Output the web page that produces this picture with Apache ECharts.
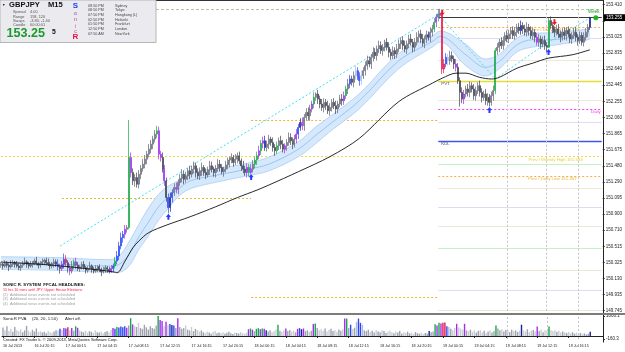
<!DOCTYPE html>
<html>
<head>
<meta charset="utf-8">
<script src="https://cdn.jsdelivr.net/npm/echarts@6/dist/echarts.min.js"></script>
<style>
html,body{margin:0;padding:0;background:#ffffff;}
#chart{width:625px;height:352px;}
</style>
</head>
<body>
<div id="chart"></div>
<script>
// ---------------- DATA ----------------
const dateLabels = ['16 Jul 2013','16 Jul 20:15','17 Jul 00:15','17 Jul 04:15','17 Jul 08:15','17 Jul 12:15',
  '17 Jul 16:15','17 Jul 20:15','18 Jul 00:15','18 Jul 04:15','18 Jul 08:15','18 Jul 12:15','18 Jul 16:15',
  '18 Jul 20:15','19 Jul 00:15','19 Jul 04:15','19 Jul 08:15','19 Jul 12:15','19 Jul 16:15'];
const priceLabels = ['149.745','149.935','150.130','150.325','150.515','150.710','150.900','151.095','151.290',
  '151.480','151.675','151.865','152.060','152.255','152.445','152.640','152.835','153.025','','153.410'];
const volLabels = ['-160.3','1066.1'];

const firstOpen = 150.29;
const closes = [
 150.30,150.28,150.31,150.29,150.27,150.30,150.32,150.30,150.28,150.26,
 150.29,150.31,150.33,150.30,150.28,150.30,150.32,150.34,150.31,150.29,
 150.31,150.33,150.35,150.32,150.30,150.28,150.31,150.33,150.30,150.27,
 150.25,150.30,150.36,150.32,150.26,150.22,150.28,150.33,150.29,150.25,
 150.27,150.30,150.26,150.23,150.25,150.28,150.24,150.22,150.25,150.27,
 150.24,150.21,150.23,150.26,150.24,150.22,150.25,150.28,150.34,150.40,
 150.52,150.62,150.66,150.72,150.74,151.58,151.40,151.30,151.34,151.26,
 151.38,151.45,151.50,151.56,151.62,151.68,151.74,151.80,151.86,151.90,
 151.62,151.58,151.44,151.30,151.10,150.98,151.10,151.16,151.22,151.20,
 151.28,151.33,151.38,151.32,151.36,151.42,151.38,151.44,151.48,151.40,
 151.36,151.42,151.46,151.40,151.37,151.43,151.48,151.44,151.40,151.45,
 151.50,151.46,151.41,151.44,151.49,151.52,151.55,151.58,151.52,151.56,
 151.60,151.54,151.48,151.44,151.40,151.46,151.40,151.44,151.50,151.55,
 151.60,151.66,151.75,151.78,151.70,151.74,151.80,151.76,151.70,151.66,
 151.72,151.78,151.74,151.68,151.72,151.76,151.82,151.78,151.74,151.80,
 151.86,151.94,152.00,151.96,152.06,152.12,152.08,152.16,152.22,152.30,
 152.34,152.28,152.22,152.18,152.24,152.20,152.14,152.18,152.24,152.20,
 152.16,152.22,152.28,152.26,152.32,152.40,152.46,152.52,152.48,152.56,
 152.62,152.55,152.50,152.56,152.62,152.68,152.74,152.70,152.78,152.84,
 152.80,152.88,152.92,152.86,152.90,152.96,152.90,152.84,152.80,152.86,
 152.82,152.88,152.94,152.98,152.92,152.88,152.94,153.00,152.96,152.90,
 152.96,153.02,153.06,153.00,152.95,153.00,153.05,153.02,153.08,153.12,
 153.20,153.26,153.30,153.28,152.64,152.70,152.78,152.74,152.80,152.76,
 152.70,152.66,152.50,152.36,152.28,152.34,152.40,152.36,152.44,152.40,
 152.32,152.38,152.44,152.36,152.30,152.34,152.26,152.30,152.24,152.32,
 152.38,152.86,152.90,152.96,152.92,152.98,153.04,153.00,153.06,153.10,
 153.04,153.08,153.14,153.10,153.16,153.12,153.08,153.14,153.10,153.04,
 153.08,153.02,152.96,153.00,152.94,152.98,152.92,152.90,153.22,153.16,
 153.12,153.08,153.12,153.06,153.02,153.08,153.04,153.10,153.06,153.00,
 153.04,153.08,153.02,152.98,153.04,152.96,153.02,153.08,153.14,153.255
];
// upper / lower wick lengths in pips (0.01)
const upWick = [
 3,2,4,3,2,5,3,2,4,3,2,3,5,2,3,4,2,3,5,2,
 3,4,2,3,5,3,2,4,3,6,3,4,7,5,3,4,6,3,5,4,
 2,3,4,2,3,5,2,3,4,2,3,2,4,3,2,3,4,3,5,6,
 5,6,4,5,3,45,6,5,4,6,5,4,6,5,4,6,5,4,5,6,
 5,4,6,5,4,5,6,4,5,6,4,5,6,4,5,3,6,4,5,4,
 5,4,6,3,5,4,6,5,3,4,6,5,4,3,5,6,4,5,3,6,
 4,5,3,6,4,5,4,6,5,4,5,6,4,5,6,4,5,3,6,4,
 5,4,6,5,3,4,6,5,4,5,6,4,5,6,4,5,6,5,4,6,
 2,5,4,6,5,4,6,5,4,5,6,4,5,6,5,4,6,5,4,5,
 6,4,5,6,4,5,6,5,4,6,5,4,6,5,4,3,5,6,4,5,
 4,6,5,4,5,6,4,5,6,4,5,6,4,5,6,4,5,4,6,5,
 5,4,6,6,1,6,5,4,6,5,4,6,5,4,6,5,4,6,5,4,
 6,5,4,6,5,4,6,5,4,5,6,3,5,4,6,5,4,6,5,4,
 5,6,4,5,6,4,5,6,4,5,6,4,5,6,4,5,6,4,3,5,
 3,3,5,6,4,5,6,4,5,6,4,5,6,4,5,4,6,5,4,1
];
const dnWick = [
 3,4,2,3,5,2,3,4,2,3,4,3,2,4,3,2,4,3,2,4,
 3,2,4,3,2,4,3,5,3,4,6,3,5,4,6,5,3,4,5,3,
 4,3,2,4,3,2,4,3,2,4,3,5,2,3,4,3,2,4,3,4,
 5,4,6,5,4,2,6,5,7,4,5,6,4,5,6,4,5,6,4,5,
 6,5,4,6,5,7,5,6,4,5,6,4,5,6,4,5,6,4,5,6,
 4,5,6,4,5,3,6,4,5,6,4,5,3,6,4,5,6,4,5,3,
 5,4,6,5,4,6,5,2,4,5,6,4,5,6,4,5,6,4,5,6,
 4,5,6,4,5,6,4,5,6,4,5,6,4,5,6,4,5,6,4,5,
 4,6,5,4,6,5,4,6,5,4,6,5,4,6,5,4,6,5,4,6,
 5,4,6,5,4,6,5,4,6,5,4,6,5,4,6,5,4,6,5,4,
 6,5,4,6,5,4,6,5,4,6,5,4,6,5,4,6,5,4,6,5,
 4,6,5,4,6,5,4,6,5,4,6,5,4,17,5,6,4,5,6,4,
 5,6,4,5,6,4,5,6,5,4,6,4,5,6,4,5,6,4,5,6,
 4,5,6,4,5,6,4,5,6,4,5,6,4,5,6,4,5,6,1,4,
 5,6,4,5,6,4,5,6,4,5,6,4,5,6,4,4,5,4,6,3
];
const volumes = [
 450,300,520,260,380,220,480,310,250,360,200,300,540,280,190,330,240,400,210,260,
 180,220,150,260,200,170,240,300,
 280,380,320,420,400,460,300,430,280,520,440,300,
 240,200,280,180,260,220,160,300,200,180,240,150,210,260,190,
 320,420,380,480,450,500,460,520,440,560,950,
 620,540,480,700,420,380,600,460,340,520,420,380,560,
 1066,850,800,520,760,600,640,580,560,420,950,480,380,
 420,560,340,300,480,260,380,320,240,300,
 200,160,240,180,120,220,260,150,180,140,200,120,170,230,150,110,190,160,130,210,150,120,180,
 360,400,340,260,380,420,360,400,380,300,
 240,300,200,260,340,600,280,220,300,400,260,320,240,280,200,380,420,360,400,260,300,220,280,
 640,660,420,300,360,280,400,240,320,380,260,300,220,340,280,360,
 930,930,420,600,380,440,750,930,700,600,
 300,260,340,220,280,180,320,240,200,300,260,160,220,280,200,140,240,180,260,120,200,160,230,140,180,100,210,150,120,180,90,160,130,
 260,200,240,
 620,560,700,660,700,720,520,480,
 380,300,420,650,460,400,340,650,300,260,340,220,300,180,260,320,200,280,160,240,300,180,260,
 560,
 400,300,360,240,320,280,200,340,260,300,220,280,
 600,
 300,240,360,200,280,320,240,
 500,
 260,340,200,300,280,
 500,
 320,260,300,220,280,180,240,200,160,220,140,200,120,180,100,160,90,140,80,120,
 230
];
// PVA coloured bars: [bar index, class]  g=climax up, r=climax down, b=rising up, p=rising down, d=dark, l=light
const pvaMarks = [
 [29,'b'],[31,'p'],[32,'b'],[33,'r'],[35,'p'],[37,'g'],[38,'p'],
 [56,'p'],[57,'b'],[58,'g'],[59,'b'],[60,'b'],[61,'b'],[62,'b'],[63,'p'],[65,'g'],[66,'p'],
 [79,'g'],[80,'p'],[81,'p'],[83,'p'],[85,'b'],[86,'d'],[87,'b'],[89,'p'],
 [125,'p'],[126,'g'],[127,'p'],[129,'g'],[130,'g'],[131,'p'],[132,'g'],[133,'p'],[134,'d'],
 [140,'g'],[144,'p'],[150,'p'],[151,'b'],[152,'d'],[153,'p'],[158,'p'],[159,'g'],
 [174,'p'],[175,'g'],[177,'b'],[180,'l'],[181,'b'],[182,'b'],[183,'l'],[217,'d'],
 [220,'g'],[221,'p'],[222,'g'],[223,'p'],[224,'r'],[225,'r'],[226,'b'],[227,'l'],
 [231,'p'],[235,'p'],[251,'g'],[264,'d'],[272,'p'],[278,'g'],[299,'d']
];
// moving average (black) read at bar positions
const maPoints = [[0,150.328],[25,150.292],[50,150.232],[57,150.21],[59,150.20],[63,150.34],[67,150.50],
 [70,150.58],[75,150.68],[84,150.77],[96,150.87],[109,150.99],[120,151.10],[130,151.19],[136,151.25],
 [151,151.41],[167,151.59],[182,151.81],[202,152.25],[219,152.47],[224,152.53],[231,152.59],[236,152.59],
 [243,152.54],[249,152.52],[253,152.54],[262,152.65],[270,152.71],[278,152.77],[290,152.81],[299,152.87]];
// SonicR dragon band
const bandUpper = [[0,150.392],[30,150.380],[55,150.356],[60,150.400],[65,150.570],[70,150.780],[75,150.980],
 [80,151.140],[85,151.240],[90,151.300],[96,151.390],[110,151.450],[125,151.510],[136,151.585],[151,151.770],
 [160,151.950],[167,152.070],[182,152.345],[202,152.825],[219,153.035],[223,153.095],[236,152.935],
 [246,152.760],[253,152.815],[262,153.010],[270,153.070],[278,153.072],[299,153.122]];
const bandLower = [[0,150.240],[30,150.228],[55,150.204],[60,150.206],[65,150.280],[70,150.478],[75,150.645],
 [80,150.830],[85,150.972],[90,151.110],[96,151.205],[110,151.288],[125,151.360],[136,151.420],[151,151.590],
 [160,151.750],[167,151.890],[182,152.165],[202,152.645],[219,152.903],[223,152.962],[236,152.680],
 [246,152.556],[253,152.642],[262,152.845],[270,152.903],[278,152.915],[299,152.995]];
const bandMid = [[0,150.316],[30,150.304],[55,150.280],[60,150.30],[65,150.42],[70,150.63],[75,150.81],
 [80,150.99],[85,151.11],[90,151.20],[96,151.30],[110,151.37],[125,151.44],[136,151.50],[151,151.68],
 [160,151.85],[167,151.98],[182,152.26],[202,152.74],[219,152.97],[223,153.03],[236,152.81],
 [246,152.66],[253,152.73],[262,152.93],[270,152.99],[278,152.99],[299,153.06]];
const trendA = [[30,150.52],[224,153.32]];
const trendB = [[224,153.24],[251,152.52],[277,152.95],[299,153.25]];

const dayStartBars = [31, 127, 222];
const prevDailyHigh = [151.095, 152.029, 153.135];
const prevDailyLow = [null, 149.909, 151.357];
const prevWeeklyHigh = 151.593;
const weeklyLevel = 153.355;
const bidPrice = 153.255;
const pivotPVT = 152.496;
const dailyLevel = 152.161;
const kdlLevel = 151.777;
const faintLevels = [153.011,152.747,152.268,151.999,151.502,151.215,150.987,150.760,150.496,150.232,149.993,149.753];
const sessionBars = [257, 277, 293];
const buyArrows = [[85,150.87],[127,151.346],[248,152.149],[278,152.843]];
const sellArrows = [[224,153.31],[281,153.20]];
const weekMarker = [302, 153.255];

const headlines = ['SONIC R. SYSTEM  FFCAL HEADLINES:','15 hrs 10 mins until JPY: Upper House Elections',
 '(2)  Additional news events not scheduled','(3)  Additional news events not scheduled','(4)  Additional news events not scheduled'];
const infoRows = [['Spread','4.00'],['Range','158, 120'],['Swaps','-3.80, -1.40'],['Candle','00:00:01']];
const sessions = [['09:50 PM','Sydney'],['08:50 PM','Tokyo'],['07:50 PM','Hongkong (L)'],['02:50 PM','Helsinki'],
 ['01:50 PM','Frankfurt'],['12:50 PM','London'],['07:50 AM','NewYork']];

// ---------------- BUILD ----------------
const FONT = 'Liberation Sans';
const N_SLOTS = 306, END = 305;
const categories = Array.from({length: N_SLOTS}, (_, i) => String(i));
const PVA = {g:'#18a84a', r:'#e8174b', b:'#2b48f2', p:'#a22df0', d:'#1a2299', l:'#a9b9ee'};
const pvaMap = {};
pvaMarks.forEach(m => { pvaMap[m[0]] = m[1]; });

const ohlc = closes.map((c, i) => {
  const o = i === 0 ? firstOpen : closes[i - 1];
  const h = +(Math.max(o, c) + upWick[i] / 100).toFixed(3);
  const l = +(Math.min(o, c) - dnWick[i] / 100).toFixed(3);
  return [o, c, l, h];
});
const candleData = ohlc.map((v, i) => {
  const k = pvaMap[i];
  if (!k) return v;
  const col = PVA[k];
  return {value: v, itemStyle: {color: col, color0: col, borderColor: col, borderColor0: col}};
});
const volData = volumes.map((v, i) => {
  const k = pvaMap[i];
  const up = ohlc[i][1] >= ohlc[i][0];
  return {value: v, itemStyle: {color: k ? PVA[k] : (up ? '#9ea3ae' : '#c9ccd3')}};
});
const bandWidth = bandUpper.map((p, k) => [p[0], +(p[1] - bandLower[k][1]).toFixed(3)]);

const dotted = [2, 2];
function seg(price, s, e, style, label) {
  return [{coord: [s, price], lineStyle: style, label: label || {show: false}}, {coord: [e, price]}];
}
const lblStyle = (text, pos, dist, color) => ({show: true, formatter: text, position: pos, distance: dist,
  color: color, fontSize: 4.4, fontFamily: FONT});
const faintColors = ['#dcdcf4','#eee6d8','#eee6d8','#dcdcf4','#c6f0c6','#eee6d8','#dcdcf4','#eee6d8','#c6f0c6','#eee6d8','#dcdcf4','#eee6d8'];

const levelLines = [];
levelLines.push(seg(weeklyLevel, 0, END, {color:'#b2ca94', width:1, type:[3,2]}));
levelLines.push(seg(bidPrice, dayStartBars[2], END, {color:'#3a3a3a', width:1, type:'solid'}));
faintLevels.forEach((p, k) => levelLines.push(seg(p, dayStartBars[2], END, {color: faintColors[k], width:1, type:'solid'})));
levelLines.push(seg(prevDailyHigh[2], dayStartBars[2], END, {color:'#f0b23c', width:1, type:dotted},
  lblStyle('Prev / Daily High ' + prevDailyHigh[2].toFixed(3), 'insideEndBottom', [22, 0], '#eeb040')));
levelLines.push(seg(pivotPVT, dayStartBars[2], END, {color:'#e4de34', width:1.4, type:'solid'},
  lblStyle('PVT', 'insideStartBottom', [3, 1], '#4a4a6e')));
levelLines.push(seg(dailyLevel, dayStartBars[2], END, {color:'#ff3cff', width:1, type:dotted},
  lblStyle('Daily', 'insideEndBottom', [1, 1], '#ff30ff')));
levelLines.push(seg(kdlLevel, dayStartBars[2], END, {color:'#3c58e4', width:1.4, type:'solid'},
  lblStyle('KDL', 'insideStartBottom', [3, 1], '#4a4a6e')));
levelLines.push(seg(prevWeeklyHigh, 0, END, {color:'#f6d63c', width:1, type:dotted},
  lblStyle('Prev / Weekly High ' + prevWeeklyHigh.toFixed(3), 'insideEndBottom', [19, 1], '#e8cc3c')));
levelLines.push(seg(prevDailyLow[2], dayStartBars[2], END, {color:'#f0b23c', width:1, type:dotted},
  lblStyle('Prev / Daily Low ' + prevDailyLow[2].toFixed(3), 'insideEndBottom', [25, 1], '#eeb040')));
levelLines.push(seg(prevDailyHigh[0], dayStartBars[0], dayStartBars[1], {color:'#f0b23c', width:1, type:dotted}));
levelLines.push(seg(prevDailyHigh[1], dayStartBars[1], dayStartBars[2], {color:'#f0b23c', width:1, type:dotted}));
levelLines.push(seg(prevDailyLow[1], dayStartBars[1], dayStartBars[2], {color:'#f0b23c', width:1, type:dotted}));
const sessionStyle = {color:'#c4c4c4', width:1, type:[2,2]};
sessionBars.forEach(b => levelLines.push({xAxis: String(b), lineStyle: sessionStyle, label:{show:false}}));

const upArrow = 'path://M2,0L4.5,3.2L3,3.2L3,6L1,6L1,3.2L-0.5,3.2Z';
const downArrow = 'path://M1,0L3,0L3,2.8L4.5,2.8L2,6L-0.5,2.8L1,2.8Z';
const marks = [];
buyArrows.forEach(a => marks.push({coord: a, symbol: upArrow, symbolSize: [5, 6], itemStyle: {color: '#1f3cff'}}));
sellArrows.forEach(a => marks.push({coord: a, symbol: downArrow, symbolSize: [5, 6], itemStyle: {color: '#f01c1c'}}));
marks.push({coord: weekMarker, symbol: 'circle', symbolSize: 5, itemStyle: {color: '#22b422'},
  label: {show: true, formatter: 'Week', position: 'top', distance: 1, offset: [-2, 0], color: '#1ea01e', fontSize: 4.6, fontFamily: FONT}});

const labelInterval = (idx) => idx % 16 === 0 && idx <= 288;
const priceMin = 149.745, priceMax = 153.410, priceStep = (priceMax - priceMin) / 19;

const option = {
  animation: false,
  backgroundColor: '#ffffff',
  textStyle: {fontFamily: FONT},
  grid: [
    {left: 0, right: 22, top: 4.7, height: 306},
    {left: 0, right: 22, top: 316, height: 23}
  ],
  xAxis: [
    {type: 'category', gridIndex: 0, data: categories, boundaryGap: true, show: false},
    {type: 'category', gridIndex: 1, data: categories, boundaryGap: true, offset: 3,
     axisLine: {show: true, lineStyle: {color: '#222', width: 1}},
     axisTick: {show: true, alignWithLabel: true, interval: labelInterval, length: 2, lineStyle: {color: '#222'}},
     axisLabel: {show: true, interval: labelInterval, formatter: (v, idx) => dateLabels[Math.round(idx / 16)],
       align: 'left', margin: 2, fontSize: 3.7, color: '#222', fontFamily: FONT},
     splitLine: {show: false}}
  ],
  yAxis: [
    {type: 'value', gridIndex: 0, position: 'right', min: priceMin, max: priceMax, interval: priceStep,
     axisLine: {show: false}, splitLine: {show: false},
     axisTick: {show: true, length: 2, lineStyle: {color: '#333'}},
     axisLabel: {margin: 3, fontSize: 4.5, color: '#222', fontFamily: FONT,
       formatter: v => priceLabels[Math.round((v - priceMin) / priceStep)] || ''}},
    {type: 'value', gridIndex: 1, position: 'right', min: -160.3, max: 1066.1, interval: 1226.4,
     axisLine: {show: false}, splitLine: {show: false},
     axisTick: {show: true, length: 2, lineStyle: {color: '#333'}},
     axisLabel: {margin: 3, fontSize: 4.5, color: '#222', fontFamily: FONT,
       formatter: v => (v < 0 ? volLabels[0] : volLabels[1])}}
  ],
  series: [
    {name: 'bandLo', type: 'line', xAxisIndex: 0, yAxisIndex: 0, data: bandLower, stack: 'band', smooth: 0.35,
     symbol: 'none', lineStyle: {color: '#a8cdf2', width: 0.8}, z: 1, silent: true},
    {name: 'bandHi', type: 'line', xAxisIndex: 0, yAxisIndex: 0, data: bandWidth, stack: 'band', smooth: 0.35,
     symbol: 'none', lineStyle: {color: '#a8cdf2', width: 0.8}, areaStyle: {color: '#d6e9fc', opacity: 1}, z: 1, silent: true},
    {name: 'bandMid', type: 'line', xAxisIndex: 0, yAxisIndex: 0, data: bandMid, smooth: 0.35,
     symbol: 'none', lineStyle: {color: '#8dbbee', width: 0.8}, z: 1, silent: true,
     markLine: {silent: true, z: 1, symbol: ['none', 'none'], animation: false, label: {show: false}, data: levelLines}},
    {name: 'trendA', type: 'line', xAxisIndex: 0, yAxisIndex: 0, data: trendA, symbol: 'none',
     lineStyle: {color: '#3fe0f2', width: 1, type: [2, 2]}, z: 2, silent: true},
    {name: 'trendB', type: 'line', xAxisIndex: 0, yAxisIndex: 0, data: trendB, symbol: 'none',
     lineStyle: {color: '#3fe0f2', width: 1, type: [2, 2]}, z: 2, silent: true},
    {name: 'MA', type: 'line', xAxisIndex: 0, yAxisIndex: 0, data: maPoints, smooth: 0.3, symbol: 'none',
     lineStyle: {color: '#111111', width: 0.9}, z: 4, silent: true},
    {name: 'GBPJPY', type: 'candlestick', xAxisIndex: 0, yAxisIndex: 0, data: candleData, barWidth: 1.5, z: 3,
     itemStyle: {color: '#b4b7c0', color0: '#3f4351', borderColor: '#5e6270', borderColor0: '#3f4351', borderWidth: 0.7},
     markPoint: {silent: true, z: 6, label: {show: false}, data: marks}},
    {name: 'PVA', type: 'bar', xAxisIndex: 1, yAxisIndex: 1, data: volData, barWidth: 1.4, z: 2, silent: true,
     markLine: {silent: true, z: 1, symbol: ['none', 'none'], label: {show: false},
       data: sessionBars.map(b => ({xAxis: String(b), lineStyle: sessionStyle}))}}
  ]
};

const chart = echarts.init(document.getElementById('chart'), null, {renderer: 'canvas', width: 625, height: 352});
chart.setOption(option);

// ---------------- OVERLAYS (text, frame) ----------------
function txt(x, y, text, size, color, weight, align) {
  return {type: 'text', x: x, y: y, z: 100, silent: true,
    style: {text: text, fill: color, fontSize: size, fontFamily: FONT, fontWeight: weight || 'normal',
      align: align || 'left', verticalAlign: 'middle', textAlign: align || 'left', textVerticalAlign: 'middle'}};
}
function hline(x1, x2, y, color, w) {
  return {type: 'line', z: 90, silent: true, shape: {x1: x1, y1: y, x2: x2, y2: y}, style: {stroke: color, lineWidth: w}};
}
const els = [];
els.push(hline(0, 604, 0.5, '#333', 1));
els.push({type: 'line', z: 90, silent: true, shape: {x1: 603.5, y1: 0, x2: 603.5, y2: 342.5}, style: {stroke: '#222', lineWidth: 1}});
els.push({type: 'rect', z: 90, silent: true, shape: {x: 0, y: 313, width: 625, height: 2}, style: {fill: '#7c7c7c'}});
els.push({type: 'rect', z: 95, silent: true, shape: {x: 0, y: 0, width: 156, height: 42.5},
  style: {fill: '#ebebef', stroke: '#a4a4ac', lineWidth: 0.8}});
els.push(txt(2, 5.2, '\u25BC', 3.6, '#222'));
els.push(txt(9, 5.4, 'GBPJPY', 7.6, '#111', 'bold'));
els.push(txt(48, 5.4, 'M15', 7.6, '#111', 'bold'));
infoRows.forEach((r, k) => {
  els.push(txt(13, 12.4 + k * 4.05, r[0], 3.9, '#555'));
  els.push(txt(30, 12.4 + k * 4.05, r[1], 3.9, '#555'));
});
els.push(txt(6.5, 33.6, '153.25', 12.6, '#1a9a2a', 'bold'));
els.push(txt(52, 32, '5', 6.8, '#111', 'bold'));
els.push(txt(75.5, 5.6, 'S', 8, '#1f3cf0', 'bold', 'center'));
els.push(txt(75.5, 14, 'o', 5.4, '#8a44c8', 'normal', 'center'));
els.push(txt(75.5, 20, 'n', 5.4, '#a844b0', 'normal', 'center'));
els.push(txt(75.5, 26.4, 'i', 5.4, '#c84492', 'normal', 'center'));
els.push(txt(75.5, 31.8, 'c', 5.4, '#e03c70', 'normal', 'center'));
els.push(txt(75.5, 37.2, 'R', 8, '#e8124a', 'bold', 'center'));
sessions.forEach((s, k) => {
  els.push(txt(88, 5.7 + k * 4.67, s[0], 3.7, '#444'));
  els.push(txt(115, 5.7 + k * 4.67, s[1], 3.7, '#444'));
});
els.push(txt(3, 285, headlines[0], 4.3, '#111', 'bold'));
els.push(txt(3, 290, headlines[1], 3.7, '#ff1a40'));
els.push(txt(3, 294.7, headlines[2], 3.9, '#a0a0a0'));
els.push(txt(3, 299.4, headlines[3], 3.9, '#a0a0a0'));
els.push(txt(3, 304.1, headlines[4], 3.9, '#a0a0a0'));
els.push(txt(3, 318.6, 'SonicR PVA', 4.3, '#222'));
els.push(txt(32, 318.6, '(20, 20, 1.50)', 4.3, '#222'));
els.push(txt(65, 318.6, 'Alert off.', 4.3, '#222'));
els.push(txt(3, 339.6, 'Created: FX Trader k. \u00A9 2009-2013, MetaQuotes Software Corp.', 4, '#111'));
const bidY = chart.convertToPixel({gridIndex: 0}, [0, bidPrice])[1];
els.push({type: 'rect', z: 98, silent: true, shape: {x: 604, y: bidY - 3.4, width: 21, height: 6.8}, style: {fill: '#000'}});
els.push(txt(606, bidY, bidPrice.toFixed(3), 4.5, '#ffffff'));

chart.setOption({graphic: {elements: els}});
</script>
</body>
</html>
